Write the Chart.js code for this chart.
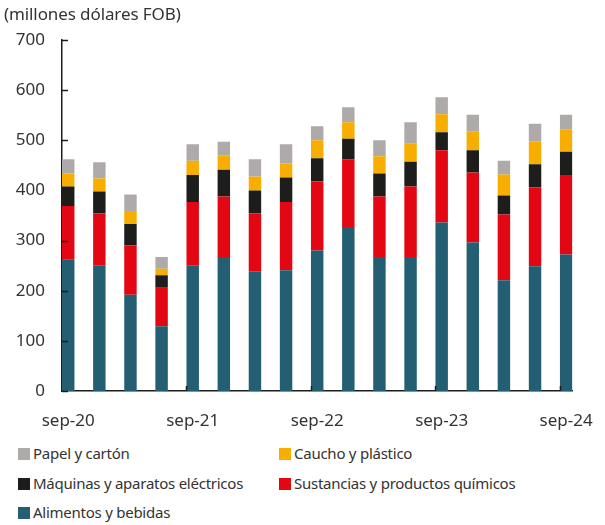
<!DOCTYPE html>
<html>
<head>
<meta charset="utf-8">
<script src="https://cdn.jsdelivr.net/npm/chart.js@4/dist/chart.umd.min.js"></script>
<style>
  body { margin: 0; background: #fff; font-family: "Noto Sans", sans-serif; color: #333; }
  #wrap { position: relative; width: 605px; height: 525px; }
  #title { position: absolute; left: 4px; top: 2px; font-size: 17px; letter-spacing: -0.1px; }
  #chart { position: absolute; left: 0; top: 0; }
  #legend { position: absolute; left: 18px; top: 443px; font-size: 15px; letter-spacing: -0.25px; }
  .item { position: absolute; white-space: nowrap; line-height: 20px; }
  .box { display: inline-block; width: 12px; height: 12px; margin-right: 3px; vertical-align: -1px; }
</style>
</head>
<body>
<div id="wrap">
  <canvas id="chart" width="605" height="430"></canvas>
  <div id="title">(millones dólares FOB)</div>
  <div id="legend"></div>
</div>
<script>
// quarterly, sep-20 .. sep-24
const periods = ['sep-20','dic-20','mar-21','jun-21','sep-21','dic-21','mar-22','jun-22','sep-22','dic-22','mar-23','jun-23','sep-23','dic-23','mar-24','jun-24','sep-24']
const alimentos  = [262, 251, 192, 129, 251, 267, 239, 241, 280, 327, 267, 267, 336, 296, 221, 249, 272]
const sustancias = [107, 103,  98,  77, 126, 121, 115, 136, 138, 135, 121, 141, 144, 140, 131, 157, 159]
const maquinas   = [ 39,  44,  43,  25,  54,  53,  46,  49,  46,  41,  46,  49,  36,  44,  38,  46,  46]
const caucho     = [ 26,  26,  26,  13,  28,  29,  28,  28,  36,  33,  34,  36,  36,  38,  42,  46,  44]
const papel      = [ 28,  32,  33,  23,  33,  27,  34,  38,  28,  30,  32,  43,  34,  33,  27,  35,  30]
const yTicks = [0, 100, 200, 300, 400, 500, 600, 700]

const font = { family: 'Noto Sans', size: 17 }
const toXY = arr => arr.map((v, i) => ({ x: i, y: v }))

const datasets = [
    { label: 'Alimentos y bebidas', data: toXY(alimentos), backgroundColor: '#235e72' },
    { label: 'Sustancias y productos químicos', data: toXY(sustancias), backgroundColor: '#e30613' },
    { label: 'Máquinas y aparatos eléctricos', data: toXY(maquinas), backgroundColor: '#1d1d1b' },
    { label: 'Caucho y plástico', data: toXY(caucho), backgroundColor: '#f8ae00' },
    { label: 'Papel y cartón', data: toXY(papel), backgroundColor: '#aeaaa9' },
]

// small inner tick marks like the original
const innerTicks = {
    id: 'innerTicks',
    afterDraw(chart) {
        const { ctx, scales: { x, y } } = chart
        ctx.save()
        ctx.strokeStyle = '#1d1d1b'
        ctx.lineWidth = 1.5
        yTicks.forEach(v => {
            const py = Math.round(y.getPixelForValue(v)) + 0.5
            ctx.beginPath()
            ctx.moveTo(x.left, py)
            ctx.lineTo(x.left + 6, py)
            ctx.stroke()
        })
        periods.forEach((p, i) => {
            if (i % 4 !== 0 || i === 0) return
            const px = Math.round(x.getPixelForValue(i - 0.2)) + 0.5
            ctx.beginPath()
            ctx.moveTo(px, y.bottom)
            ctx.lineTo(px, y.bottom - 5)
            ctx.stroke()
        })
        ctx.restore()
    }
}

new Chart(document.getElementById('chart'), {
    type: 'bar',
    data: { datasets },
    plugins: [innerTicks],
    options: {
        responsive: false,
        animation: false,
        barPercentage: 0.4,
        categoryPercentage: 1,
        layout: { padding: { top: 40, right: 23, bottom: 0, left: 0 } },
        plugins: {
            legend: { display: false },
            tooltip: { enabled: false },
        },
        scales: {
            x: {
                type: 'linear',
                stacked: true,
                offset: false,
                min: -0.2,
                max: 16.2,
                afterFit: s => { s.height = 39 },
                afterBuildTicks: s => { s.ticks = periods.map((p, i) => ({ value: i })).filter(t => t.value % 4 === 0) },
                grid: { display: false, offset: false },
                border: { color: '#1d1d1b', width: 1.5 },
                ticks: {
                    color: '#333',
                    font,
                    padding: 12,
                    maxRotation: 0,
                    autoSkip: false,
                    callback: v => periods[v],
                },
            },
            y: {
                stacked: true,
                min: 0,
                max: 700,
                afterFit: s => { s.width = 62 },
                afterBuildTicks: s => { s.ticks = yTicks.map(v => ({ value: v })) },
                grid: { display: false, drawTicks: false },
                border: { color: '#1d1d1b', width: 1.5 },
                ticks: { color: '#333', font, padding: 17 },
            },
        },
    },
})

// legend laid out in two columns like the source
const legendOrder = [
    ['Papel y cartón', 0, 0], ['Caucho y plástico', 1, 0],
    ['Máquinas y aparatos eléctricos', 0, 1], ['Sustancias y productos químicos', 1, 1],
    ['Alimentos y bebidas', 0, 2],
]
const legend = document.getElementById('legend')
legendOrder.forEach(([label, col, row]) => {
    const ds = datasets.find(d => d.label === label)
    const el = document.createElement('div')
    el.className = 'item'
    el.style.left = (col * 261) + 'px'
    el.style.top = (row * 29.5) + 'px'
    el.innerHTML = '<span class="box" style="background:' + ds.backgroundColor + '"></span>' + label
    legend.appendChild(el)
})
</script>
</body>
</html>
